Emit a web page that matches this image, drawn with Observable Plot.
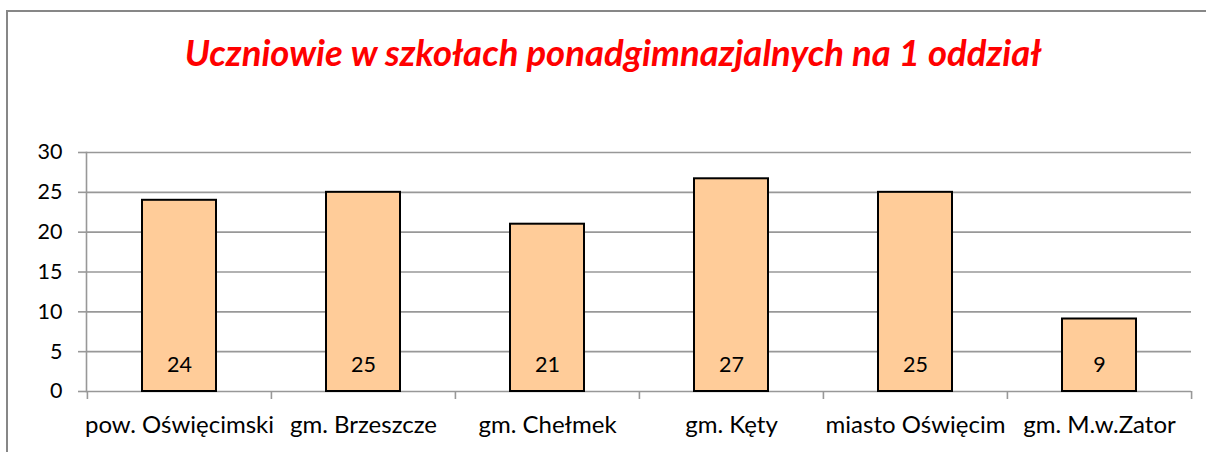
<!DOCTYPE html>
<html>
<head>
<meta charset="utf-8">
<script src="https://cdn.jsdelivr.net/npm/d3@7"></script>
<script src="https://cdn.jsdelivr.net/npm/@observablehq/plot@0.6"></script>
<style>
  html, body { margin: 0; padding: 0; background: #fff; }
  #page { position: relative; width: 1206px; height: 452px; overflow: hidden; font-family: Lato, "Open Sans", sans-serif; }
  #border { position: absolute; left: 6px; top: 10px; width: 1210px; height: 460px; border-left: 2px solid #878787; border-top: 2px solid #878787; }
  #title { position: absolute; left: 0; top: 32px; width: 1226px; text-align: center; color: #ff0000; font-weight: bold; font-style: italic; font-size: 36.5px; line-height: 40px; font-family: Lato, sans-serif; }
  #chart { position: absolute; left: 0; top: 120px; }
</style>
</head>
<body>
<div id="page">
  <div id="border"></div>
  <div id="title">Uczniowie w szkołach ponadgimnazjalnych na 1 oddział</div>
  <div id="chart"></div>
</div>
<script>
const categories = ["pow. Oświęcimski", "gm. Brzeszcze", "gm. Chełmek", "gm. Kęty", "miasto Oświęcim", "gm. M.w.Zator"];
const values = [24, 25, 21, 26.7, 25, 9.1];
const valueLabels = ["24", "25", "21", "27", "25", "9"];
const yTicks = [0, 5, 10, 15, 20, 25, 30];

const data = categories.map((c, i) => ({name: c, value: values[i], label: valueLabels[i]}));

const W = 1206, H = 332, mL = 86, mR = 15;
const step = (W - mL - mR) / categories.length;

const plot = Plot.plot({
  width: W,
  height: H,
  marginTop: 32,
  marginBottom: 61,
  marginLeft: mL,
  marginRight: mR,
  style: {fontFamily: "Lato, sans-serif", fontSize: "21px", color: "#000", background: "transparent", overflow: "visible"},
  x: {domain: categories, padding: 0, label: null},
  y: {domain: [0, 30], label: null},
  marks: [
    Plot.gridY(yTicks, {stroke: "#989898", strokeOpacity: 1, strokeWidth: 1.6}),
    Plot.axisY(yTicks, {tickSize: 8, tickPadding: 16, stroke: "#989898", strokeWidth: 1.6, fill: "#000", fontSize: 21.5, label: null}),
    Plot.frame({anchor: "left", stroke: "#989898", strokeWidth: 1.6}),
    Plot.ruleX(categories, {x: d => d, dx: -step / 2, y1: 0, y2: 0, insetBottom: -8, stroke: "#989898", strokeWidth: 1.6}),
    Plot.ruleX(categories.slice(-1), {x: d => d, dx: step / 2, y1: 0, y2: 0, insetBottom: -8, stroke: "#989898", strokeWidth: 1.6}),
    Plot.axisX({tickSize: 0, tickPadding: 24, fill: "#000", fontSize: 24, label: null}),
    Plot.barY(data, {x: "name", y: "value", fill: "#ffcc99", stroke: "#000", strokeWidth: 2, insetLeft: 55, insetRight: 55}),
    Plot.text(data, {x: "name", y: 0, dy: -26, text: "label", fill: "#000", fontSize: 21.5})
  ]
});
document.getElementById("chart").appendChild(plot);
</script>
</body>
</html>
